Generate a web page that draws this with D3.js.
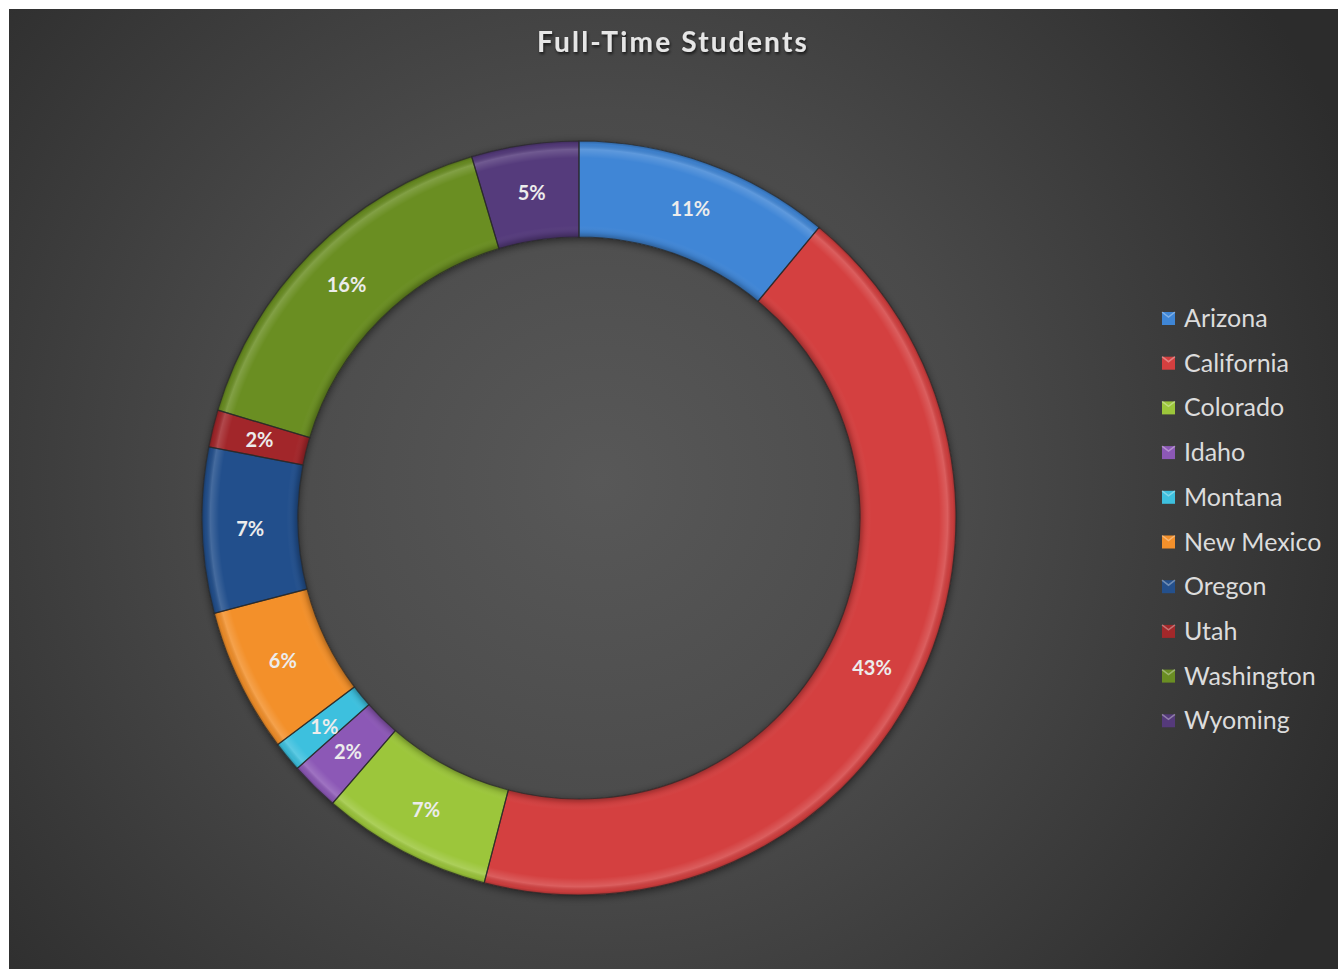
<!DOCTYPE html>
<html>
<head>
<meta charset="utf-8">
<script src="https://cdn.jsdelivr.net/npm/d3@7"></script>
<style>
  html, body { margin: 0; padding: 0; background: #ffffff; }
  svg { display: block; }
</style>
</head>
<body>
<svg id="chart" width="1338" height="969"></svg>
<script>
// Full-time students by state (share of total, percent)
const states = ["Arizona", "California", "Colorado", "Idaho", "Montana",
                "New Mexico", "Oregon", "Utah", "Washington", "Wyoming"];
const shares = [11.0, 43.1, 7.3, 2.1, 1.3, 6.2, 7.1, 1.6, 15.8, 4.6];
const colors = ["#3f86d6", "#d43f3f", "#9cc63b", "#8c58b6", "#3ec0de",
                "#f3902b", "#24508c", "#a2282a", "#6a8e23", "#553a7b"];
const title = "Full-Time Students";

const W = 1338, H = 969;
const svg = d3.select("#chart");
const defs = svg.append("defs");

// Panel background: soft radial light in the middle, darker corners
const bg = defs.append("radialGradient").attr("id", "bgGrad")
  .attr("gradientUnits", "userSpaceOnUse")
  .attr("cx", 600).attr("cy", 480).attr("r", 820);
bg.append("stop").attr("offset", 0).attr("stop-color", "#585858");
bg.append("stop").attr("offset", 0.45).attr("stop-color", "#4a4a4a");
bg.append("stop").attr("offset", 1).attr("stop-color", "#2c2c2c");

svg.append("rect").attr("x", 9).attr("y", 9)
  .attr("width", W - 9).attr("height", H - 9)
  .attr("fill", "url(#bgGrad)");

// Drop shadow under the ring
const sh = defs.append("filter").attr("id", "ringShadow")
  .attr("x", "-20%").attr("y", "-20%").attr("width", "140%").attr("height", "140%");
sh.append("feGaussianBlur").attr("in", "SourceAlpha").attr("stdDeviation", 4).attr("result", "b");
sh.append("feOffset").attr("in", "b").attr("dx", 0).attr("dy", 2).attr("result", "o");
sh.append("feComponentTransfer").attr("in", "o").attr("result", "s")
  .append("feFuncA").attr("type", "linear").attr("slope", 0.55);
const shm = sh.append("feMerge");
shm.append("feMergeNode").attr("in", "s");
shm.append("feMergeNode").attr("in", "SourceGraphic");

// Text shadow for the title
const ts = defs.append("filter").attr("id", "textShadow")
  .attr("x", "-10%").attr("y", "-30%").attr("width", "120%").attr("height", "160%");
ts.append("feGaussianBlur").attr("in", "SourceAlpha").attr("stdDeviation", 1.5).attr("result", "b");
ts.append("feOffset").attr("in", "b").attr("dx", 1).attr("dy", 2).attr("result", "o");
ts.append("feComponentTransfer").attr("in", "o").attr("result", "s")
  .append("feFuncA").attr("type", "linear").attr("slope", 0.7);
const tsm = ts.append("feMerge");
tsm.append("feMergeNode").attr("in", "s");
tsm.append("feMergeNode").attr("in", "SourceGraphic");

// Ring geometry
const cx = 579, cy = 518;
const rOuter = 377, rInner = 281;

// Bevel shading across the ring thickness (centred on the ring's own origin)
const ri = rInner / rOuter;
const bev = defs.append("radialGradient").attr("id", "bevelGrad")
  .attr("gradientUnits", "userSpaceOnUse")
  .attr("cx", 0).attr("cy", 0).attr("r", rOuter);
[[ri, "#000", 0.28], [ri + 0.012, "#000", 0.08], [ri + 0.03, "#fff", 0.0],
 [0.955, "#fff", 0.0], [0.978, "#fff", 0.16], [0.992, "#000", 0.05], [1, "#000", 0.25]]
  .forEach(([o, c, a]) => bev.append("stop").attr("offset", o)
    .attr("stop-color", c).attr("stop-opacity", a));

const total = d3.sum(shares);
const data = states.map((s, i) => ({ state: s, value: shares[i], color: colors[i] }));

const pie = d3.pie().value(d => d.value).sort(null);
const arc = d3.arc().innerRadius(rInner).outerRadius(rOuter);
const midR = (rInner + rOuter) / 2;
const labelArc = d3.arc().innerRadius(midR).outerRadius(midR);
const arcs = pie(data);

const g = svg.append("g").attr("transform", `translate(${cx},${cy})`);
const ring = g.append("g").attr("filter", "url(#ringShadow)");

ring.selectAll("path.slice").data(arcs).join("path")
  .attr("class", "slice")
  .attr("d", arc)
  .attr("fill", d => d.data.color);

// Radial bevel overlay over the whole ring
g.append("path")
  .attr("d", d3.arc().innerRadius(rInner).outerRadius(rOuter)
    .startAngle(0).endAngle(2 * Math.PI)())
  .attr("fill", "url(#bevelGrad)");

// Dark seams between slices
g.selectAll("path.edge").data(arcs).join("path")
  .attr("class", "edge")
  .attr("d", arc)
  .attr("fill", "none")
  .attr("stroke", "#2a2a2a")
  .attr("stroke-opacity", 0.75)
  .attr("stroke-width", 1.2);

// Percentage labels
g.selectAll("text.pct").data(arcs).join("text")
  .attr("class", "pct")
  .attr("transform", d => `translate(${labelArc.centroid(d)})`)
  .attr("text-anchor", "middle")
  .attr("dy", "0.36em")
  .attr("font-family", "Lato, 'Open Sans', sans-serif")
  .attr("font-weight", 700)
  .attr("font-size", 20)
  .attr("fill", "#ececec")
  .text(d => Math.round(d.data.value / total * 100) + "%");

// Title
svg.append("text")
  .attr("x", 673).attr("y", 52)
  .attr("text-anchor", "middle")
  .attr("font-family", "Lato, 'Open Sans', sans-serif")
  .attr("font-weight", 700)
  .attr("font-size", 28)
  .attr("letter-spacing", 2.2)
  .attr("fill", "#e6e6e6")
  .attr("filter", "url(#textShadow)")
  .text(title);

// Legend
const legend = svg.append("g").attr("transform", "translate(1162,318)");
const rowH = 44.7;
const item = legend.selectAll("g.item").data(data).join("g")
  .attr("class", "item")
  .attr("transform", (d, i) => `translate(0,${i * rowH})`);
item.append("rect")
  .attr("x", 0).attr("y", -6).attr("width", 13).attr("height", 13)
  .attr("fill", d => d.color);
item.append("path")
  .attr("d", "M0,-6 L6.5,-1 L13,-6")
  .attr("fill", "none").attr("stroke", "#fff").attr("stroke-opacity", 0.35).attr("stroke-width", 1.5);
item.append("text")
  .attr("x", 22).attr("dy", "0.36em")
  .attr("font-family", "Lato, 'Open Sans', sans-serif")
  .attr("font-size", 25)
  .attr("fill", "#dcdcdc")
  .text(d => d.state);
</script>
</body>
</html>
